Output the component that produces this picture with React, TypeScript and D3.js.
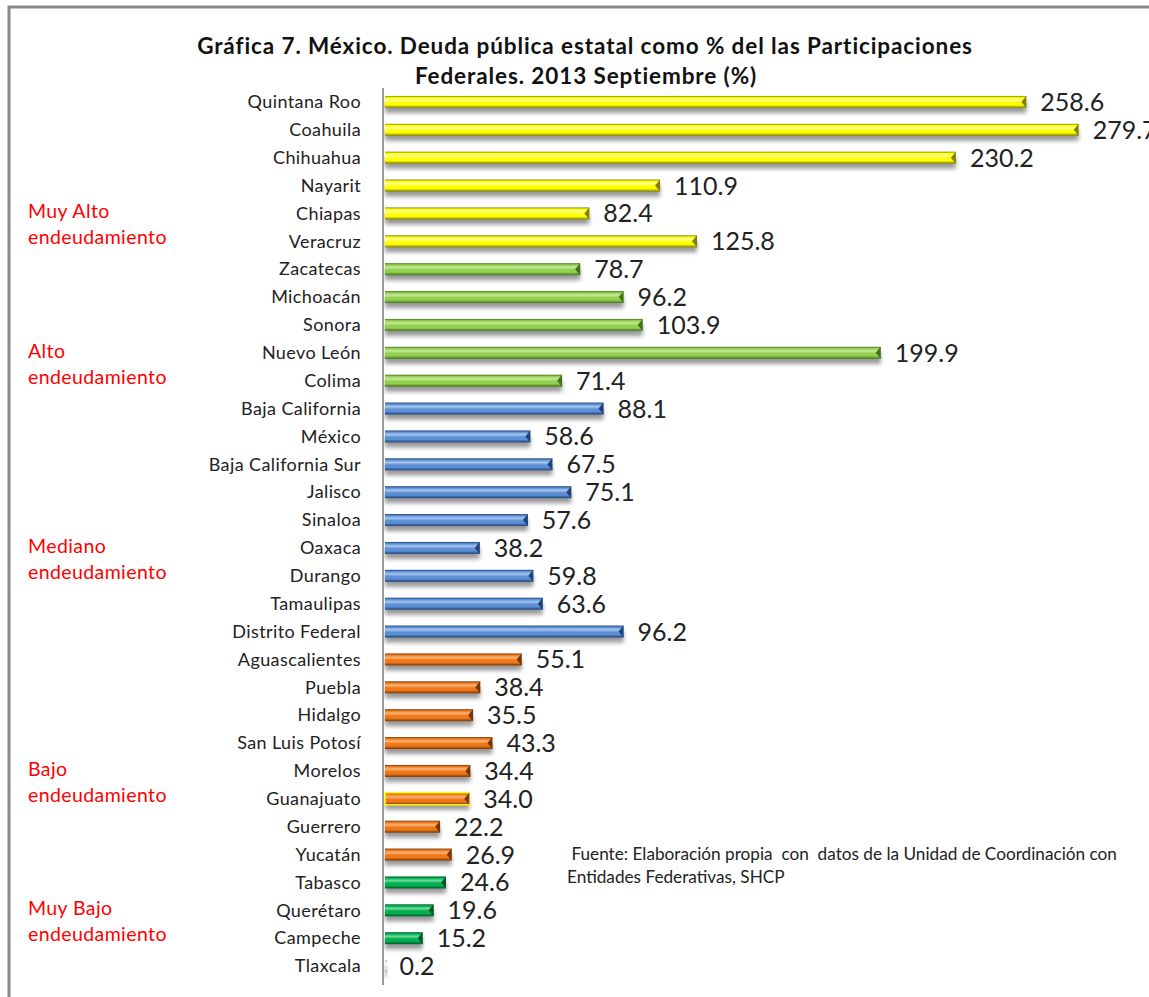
import * as d3 from "d3"

const states = [
  "Quintana Roo", "Coahuila", "Chihuahua", "Nayarit", "Chiapas", "Veracruz",
  "Zacatecas", "Michoacán", "Sonora", "Nuevo León", "Colima",
  "Baja California", "México", "Baja California Sur", "Jalisco", "Sinaloa",
  "Oaxaca", "Durango", "Tamaulipas", "Distrito Federal",
  "Aguascalientes", "Puebla", "Hidalgo", "San Luis Potosí", "Morelos",
  "Guanajuato", "Guerrero", "Yucatán",
  "Tabasco", "Querétaro", "Campeche", "Tlaxcala",
]

const values = [
  258.6, 279.7, 230.2, 110.9, 82.4, 125.8,
  78.7, 96.2, 103.9, 199.9, 71.4,
  88.1, 58.6, 67.5, 75.1, 57.6, 38.2, 59.8, 63.6, 96.2,
  55.1, 38.4, 35.5, 43.3, 34.4, 34.0, 22.2, 26.9,
  24.6, 19.6, 15.2, 0.2,
]

const levels = [
  "muyAlto", "muyAlto", "muyAlto", "muyAlto", "muyAlto", "muyAlto",
  "alto", "alto", "alto", "alto", "alto",
  "mediano", "mediano", "mediano", "mediano", "mediano", "mediano", "mediano", "mediano", "mediano",
  "bajo", "bajo", "bajo", "bajo", "bajo", "bajo", "bajo", "bajo",
  "muyBajo", "muyBajo", "muyBajo", "tlax",
]

// group captions: first line, state they sit beside
const groupLabels = [
  {top: "Muy Alto", row: "Chiapas"},
  {top: "Alto", row: "Nuevo León"},
  {top: "Mediano", row: "Oaxaca"},
  {top: "Bajo", row: "Morelos"},
  {top: "Muy Bajo", row: "Querétaro"},
]

const palette: Record<string, {base: string; dark: string; light: string}> = {
  muyAlto: {base: "#ffff00", dark: "#808000", light: "#ffff9a"},
  alto: {base: "#92d050", dark: "#44711a", light: "#c4ea9a"},
  mediano: {base: "#5b8fd6", dark: "#1f4277", light: "#a9c6ee"},
  bajo: {base: "#f07818", dark: "#763603", light: "#f9b37a"},
  muyBajo: {base: "#00b050", dark: "#005a26", light: "#6fdc9c"},
  tlax: {base: "#e8e8e8", dark: "#b0b0b0", light: "#f8f8f8"},
}

const font = "Lato, 'Open Sans', sans-serif"

const App = () => {
  const width = 1149
  const height = 997

  const y = d3.scaleBand<string>()
    .domain(states)
    .range([88, 980])
    .paddingInner(0.57)
    .paddingOuter(0.285)

  const x = d3.scaleLinear().domain([0, 300]).range([385, 1129])

  const bh = y.bandwidth()

  return (
    <svg width={width} height={height} style={{position: "absolute", left: 0, top: 0, background: "#fff"}}>
      <defs>
        {Object.entries(palette).map(([key, c]) => (
          <linearGradient key={key} id={`g-${key}`} x1="0" y1="0" x2="0" y2="1">
            <stop offset="0" stopColor={c.dark} />
            <stop offset="0.14" stopColor={c.base} />
            <stop offset="0.35" stopColor={c.light} />
            <stop offset="0.55" stopColor={c.base} />
            <stop offset="0.75" stopColor={c.base} />
            <stop offset="1" stopColor={c.dark} />
          </linearGradient>
        ))}
        <filter id="shadow" x="-5%" y="-100%" width="110%" height="300%">
          <feGaussianBlur stdDeviation="2.2" />
        </filter>
      </defs>

      <rect x={9} y={7} width={1200} height={1100} fill="none" stroke="#8a8a8a" strokeWidth={3} />

      <text x={585} y={54} textAnchor="middle" fontFamily={font} fontWeight="bold" fontSize={22.5} letterSpacing={0.9} fill="#111">
        Gráfica 7. México. Deuda pública estatal como % del las Participaciones
      </text>
      <text x={586} y={84} textAnchor="middle" fontFamily={font} fontWeight="bold" fontSize={22.5} letterSpacing={0.9} fill="#111">
        Federales. 2013 Septiembre (%)
      </text>

      {states.map((s, i) => {
        const v = values[i]
        const c = palette[levels[i]]
        const y0 = y(s) as number
        const x1 = x(v)
        const w = Math.max(x1 - x(0), 2)
        const cy = y0 + bh / 2
        const isGuanajuato = s === "Guanajuato"
        return (
          <g key={s}>
            <rect x={x(0)} y={y0 + 5} width={w} height={bh} fill="#000" opacity={0.4} filter="url(#shadow)" />
            <rect x={x(0)} y={y0} width={w} height={bh} fill={`url(#g-${levels[i]})`}
              stroke={isGuanajuato ? "#ffff00" : "none"} strokeWidth={isGuanajuato ? 1.5 : 0} />
            {w > 6 && (
              <path
                d={`M${x1 - 5},${cy} L${x1},${y0} L${x1},${y0 + bh} Z`}
                fill={c.dark}
              />
            )}
            <text x={x1 + 14} y={cy} dy="0.36em" fontFamily={font} fontSize={25} fill="#222">
              {v.toFixed(1)}
            </text>
            <text x={361} y={cy} dy="0.35em" textAnchor="end" fontFamily={font} fontSize={18} letterSpacing={0.4} fill="#222">
              {s}
            </text>
          </g>
        )
      })}

      <line x1={383} x2={383} y1={88} y2={985} stroke="#9a9a9a" strokeWidth={2} />

      {groupLabels.map((g) => {
        const cy = (y(g.row) as number) + bh / 2
        return (
          <g key={g.top}>
            <text x={28} y={cy - 2} dy="0.35em" fontFamily={font} fontSize={19.5} letterSpacing={0.4} fill="#ff0000">{g.top}</text>
            <text x={28} y={cy + 24} dy="0.35em" fontFamily={font} fontSize={19.5} letterSpacing={0.4} fill="#ff0000">endeudamiento</text>
          </g>
        )
      })}

      <text x={567} y={860} fontFamily={font} fontSize={17.2} fill="#222" style={{whiteSpace: "pre"}}>
        {" Fuente: Elaboración propia  con  datos de la Unidad de Coordinación con"}
      </text>
      <text x={567} y={883} fontFamily={font} fontSize={17.2} fill="#222">
        Entidades Federativas, SHCP
      </text>
    </svg>
  )
}

export default App
